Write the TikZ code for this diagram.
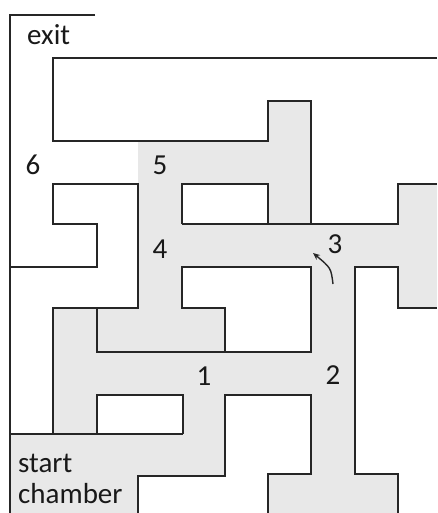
\documentclass[tikz,border=0pt]{standalone}
\usepackage{fontspec}
\setmainfont{Carlito}
\usetikzlibrary{arrows.meta}
\tikzset{
  wall/.style={line width=1.5pt, draw=black!85, line cap=butt, line join=miter},
  shade/.style={fill=black!9, draw=none},
  lbl/.style={font=\fontsize{29}{34}\selectfont, text=black!90, inner sep=0pt},
  hint/.style={line width=1.4pt, draw=black!85, -{Stealth[length=7pt,width=6pt]}}
}
\begin{document}
\begin{tikzpicture}[x=1pt,y=-1pt]
\useasboundingbox (0,0) rectangle (437,513);
\fill[white] (0,0) rectangle (437,513);
% shaded (explored) passages
\fill[shade] (10,434) rectangle (138,513);
\fill[shade] (138,434) rectangle (225,476);
\fill[shade] (183,395) rectangle (225,434);
\fill[shade] (53,352) rectangle (311,395);
\fill[shade] (53,308) rectangle (97,434);
\fill[shade] (97,308) rectangle (225,352);
\fill[shade] (138,184) rectangle (182,308);
\fill[shade] (138,224) rectangle (398,267);
\fill[shade] (398,184) rectangle (437,308);
\fill[shade] (311,267) rectangle (355,474);
\fill[shade] (268,474) rectangle (398,513);
\fill[shade] (268,101) rectangle (311,224);
\fill[shade] (138,141) rectangle (268,184);
% walls
\draw[wall] (95,15) -- (10,15) -- (10,513);
\draw[wall] (437,58) -- (53,58) -- (53,141) -- (268,141) -- (268,101) -- (311,101) -- (311,224) -- (398,224) -- (398,184) -- (437,184);
\draw[wall] (182,224) -- (182,184) -- (268,184) -- (268,224);
\draw[wall] (182,224) -- (311,224);
\draw[wall] (10,267) -- (97,267) -- (97,224) -- (53,224) -- (53,184) -- (138,184) -- (138,308) -- (53,308) -- (53,434);
\draw[wall] (10,434) -- (183,434);
\draw[wall] (97,434) -- (97,395) -- (183,395) -- (183,434);
\draw[wall] (97,308) -- (97,352) -- (311,352) -- (311,267) -- (182,267) -- (182,308) -- (225,308) -- (225,352);
\draw[wall] (138,513) -- (138,476) -- (225,476) -- (225,395) -- (311,395) -- (311,474) -- (268,474) -- (268,513);
\draw[wall] (398,513) -- (398,474) -- (355,474) -- (355,267) -- (398,267) -- (398,308) -- (437,308);
% labels
\node[lbl, anchor=base west] (exit) at (27,45) {exit};
\node[lbl, anchor=base west] (start) at (18,472) {start};
\node[lbl, anchor=base west] (chamber) at (18,503) {chamber};
\node[lbl, anchor=base] (n6) at (33,175) {6};
\node[lbl, anchor=base] (n5) at (160,175) {5};
\node[lbl, anchor=base] (n4) at (160,258) {4};
\node[lbl, anchor=base] (n3) at (335,253) {3};
\node[lbl, anchor=base] (n2) at (333,384) {2};
\node[lbl, anchor=base] (n1) at (204,385) {1};
\coordinate (tail) at (333,284);
\coordinate (tip) at (313,253);
\draw[hint] (tail) .. controls (331,268) .. (tip);
\end{tikzpicture}
\end{document}
